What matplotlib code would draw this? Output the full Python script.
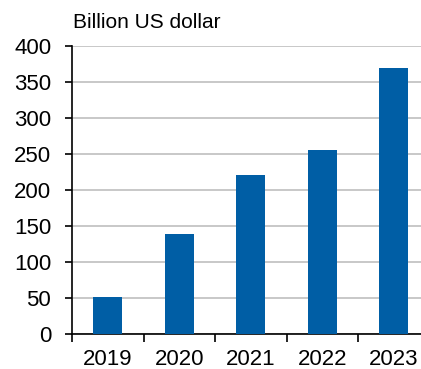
import numpy as np
import matplotlib.pyplot as plt

plt.rcParams['font.family'] = ['Liberation Sans', 'DejaVu Sans']

years = ['2019', '2020', '2021', '2022', '2023']
values = [51, 139, 221, 255, 369]

fig = plt.figure(figsize=(4.21, 3.69), dpi=100)
# axes runs a bit past the right edge of the figure, as in the original
x0, y0 = 72 / 421, 1 - 334 / 369
w, h = 357.5 / 421, 288 / 369
ax = fig.add_axes([x0, y0, w, h])

x = np.arange(len(years))
ax.bar(x, values, width=0.41, color='#005ea5', zorder=3)

ax.set_xlim(-0.5, 4.5)
ax.set_ylim(0, 400)
ax.set_yticks(range(0, 401, 50))
ax.yaxis.grid(True, color='#bfbfbf', lw=1.2, zorder=0)

ax.set_xticks(x)
ax.set_xticklabels(years)
ax.set_xticks(np.arange(-0.5, 4.6, 1), minor=True)
ax.tick_params(axis='x', which='major', length=0, pad=11, labelsize=16)
ax.tick_params(axis='x', which='minor', length=5.5, width=1.2, direction='out')
ax.tick_params(axis='y', length=5, width=1.2, pad=10, labelsize=16)

for s in ['top', 'right']:
    ax.spines[s].set_visible(False)
for s in ['left', 'bottom']:
    ax.spines[s].set_linewidth(1.2)

fig.text(73 / 421, 1 - 22 / 369, 'Billion US dollar', fontsize=15, va='center')

fig.savefig('out.png', dpi=100)
